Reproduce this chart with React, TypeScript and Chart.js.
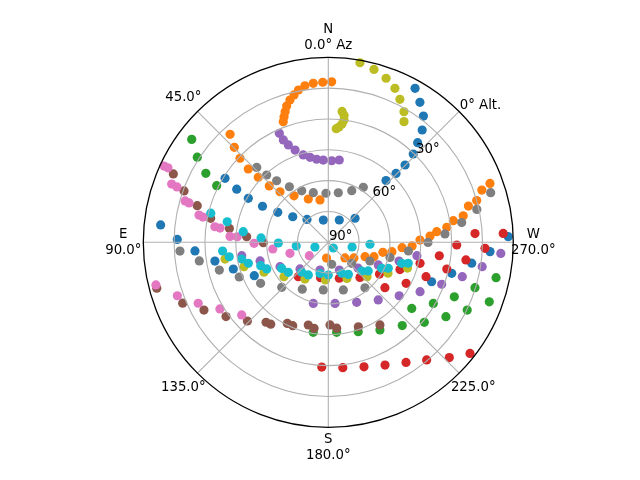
import React, { useEffect, useRef } from 'react';
import { Chart, registerables } from 'chart.js';

Chart.register(...registerables);

// ---- data: azimuth (deg, N=0, E=90) and altitude (deg) per series ----
const blueAz = [330.6, 326.8, 323.0, 320.1, 318.1, 316.1, 315.2, 315.5, 316.9, 312.0, 333.8, 12.6, 43.0, 54.3, 59.3, 61.3, 61.2, 59.9, 58.2, 84.1, 88.9, 93.7, 99.4, 105.7, 114.3, 271.8, 266.7, 261.7, 255.9, 249.1];
const blueAlt = [4.0, 8.6, 13.1, 18.8, 24.9, 30.4, 37.0, 43.0, 48.9, 72.5, 77.9, 78.9, 74.8, 68.7, 61.4, 53.5, 45.6, 38.5, 30.9, 8.0, 16.5, 25.0, 34.1, 42.0, 50.5, 2.4, 11.2, 19.5, 28.1, 36.2];

const orangeAz = [20.5, 19.4, 18.3, 17.0, 15.1, 13.1, 11.1, 8.5, 5.4, 2.0, 358.8, 42.3, 44.7, 46.4, 47.5, 47.1, 46.3, 43.7, 36.4, 24.8, 11.1, 290.0, 288.8, 285.7, 284.5, 281.1, 279.8, 277.2, 275.6, 273.5, 271.4, 267.5, 265.8, 261.6, 259.6, 252.5, 248.6, 238.6, 226.8, 173.5];
const orangeAlt = [27.4, 25.2, 23.1, 20.7, 18.3, 16.4, 14.5, 13.0, 12.3, 12.1, 11.9, 19.0, 25.0, 30.7, 37.2, 43.5, 50.3, 56.0, 61.9, 66.8, 69.0, 6.3, 11.1, 15.0, 19.6, 23.1, 28.3, 31.9, 37.0, 40.4, 45.4, 49.2, 54.0, 58.7, 63.0, 66.7, 70.8, 75.4, 78.9, 82.3];

const greenAz = [53.0, 57.0, 60.6, 63.1, 258.1, 252.8, 246.6, 239.8, 231.6, 249.7, 244.0, 237.7, 230.2, 221.6, 210.5, 198.5, 185.3, 170.5];
const greenAlt = [6.8, 14.0, 21.6, 29.1, 6.6, 15.3, 23.2, 30.9, 38.2, 6.5, 14.8, 22.3, 29.2, 35.8, 40.5, 44.1, 46.0, 45.6];

const redAz = [273.4, 268.8, 263.1, 257.1, 249.2, 238.2, 222.0, 197.0, 167.6, 138.9, 272.9, 267.8, 262.7, 257.3, 250.6, 242.2, 231.3, 177.0, 186.6, 196.0, 204.8, 212.9, 219.9, 226.4, 231.9];
const redAlt = [18.5, 27.5, 35.6, 44.2, 52.7, 60.7, 67.0, 71.7, 72.4, 67.8, 4.8, 13.7, 22.5, 30.9, 39.6, 47.2, 54.7, 29.2, 28.6, 27.0, 24.2, 20.4, 15.4, 8.7, 2.4];

const purpleAz = [24.2, 23.7, 22.3, 19.8, 16.0, 12.1, 8.0, 3.5, 357.6, 352.4, 98.8, 105.3, 116.8, 133.3, 163.3, 201.7, 229.1, 245.6, 255.2, 261.4, 266.3, 261.0, 255.6, 249.7, 241.7, 233.0, 220.9, 205.3, 186.3, 166.2];
const purpleAlt = [31.9, 35.6, 38.8, 42.3, 45.8, 47.7, 49.2, 49.9, 50.3, 49.6, 47.4, 55.6, 63.7, 71.1, 75.9, 75.5, 70.9, 63.3, 54.4, 46.4, 5.9, 14.2, 22.7, 31.2, 39.3, 46.8, 52.9, 57.7, 60.1, 59.4];

const brownAz = [66.2, 70.4, 74.4, 78.5, 82.0, 86.1, 90.4, 105.0, 112.7, 118.6, 126.0, 134.2, 142.1, 144.9, 153.2, 156.9, 166.4, 170.6, 181.2, 185.6, 199.6, 212.0];
const brownAlt = [7.6, 15.5, 23.8, 31.6, 41.4, 50.2, 58.4, 3.6, 13.2, 21.1, 28.5, 35.1, 40.7, 41.3, 45.8, 45.9, 48.6, 47.6, 49.8, 48.0, 46.4, 42.6];

const pinkAz = [65.1, 65.1, 69.6, 69.9, 73.9, 74.2, 78.1, 78.6, 82.2, 82.5, 86.6, 86.5, 90.8, 96.9, 106.0, 125.2, 103.9, 109.5, 115.1, 121.6, 130.0];
const pinkAlt = [1.9, 4.0, 8.7, 11.6, 17.5, 19.6, 25.7, 27.8, 34.3, 36.9, 42.1, 45.6, 53.9, 62.8, 70.6, 78.7, 3.6, 12.1, 20.1, 28.1, 35.0];

const grayAz = [43.7, 42.5, 40.0, 35.0, 27.3, 16.8, 2.7, 348.6, 335.6, 327.5, 287.0, 282.5, 278.4, 274.1, 269.9, 263.8, 256.2, 245.8, 228.1, 188.8, 93.4, 98.2, 104.3, 111.3, 121.2, 134.0, 151.0, 174.0, 197.5, 218.9];
const grayAlt = [39.6, 45.6, 50.9, 57.0, 61.8, 64.8, 66.1, 65.4, 62.4, 58.3, 7.4, 16.0, 24.4, 33.1, 41.5, 50.8, 59.1, 67.8, 74.7, 79.2, 17.7, 26.6, 35.3, 43.5, 51.5, 58.5, 63.9, 66.7, 65.7, 61.6];

const oliveAz = [350.0, 345.2, 340.6, 336.6, 333.4, 329.9, 327.9, 354.0, 352.9, 352.7, 353.4, 354.7, 356.0, 99.2, 106.1, 115.0, 127.8, 147.6, 175.8, 207.3, 228.4, 242.6, 252.0];
const oliveAlt = [1.3, 3.0, 5.4, 8.4, 12.2, 16.6, 20.7, 26.0, 27.8, 30.0, 32.1, 33.7, 34.6, 39.1, 47.3, 55.5, 62.7, 68.8, 71.6, 70.2, 64.8, 57.3, 49.5];

const cyanAz = [76.1, 78.5, 82.9, 86.3, 90.8, 96.6, 109.5, 221.3, 258.8, 267.3, 94.7, 98.3, 100.9, 104.7, 109.1, 113.4, 119.2, 126.9, 138.4, 148.5, 165.1, 180.0, 203.4, 212.0, 229.3, 234.3, 244.0, 246.6, 254.0, 255.3];
const cyanAlt = [31.1, 39.8, 48.3, 57.2, 65.7, 74.3, 83.1, 86.3, 78.2, 69.7, 38.4, 41.3, 47.1, 49.8, 55.2, 57.4, 64.0, 65.7, 70.5, 71.4, 74.3, 74.1, 73.6, 71.6, 68.6, 66.1, 61.1, 58.2, 52.9, 49.8];

const seriesColors = ['#1f77b4', '#ff7f0e', '#2ca02c', '#d62728', '#9467bd', '#8c564b', '#e377c2', '#7f7f7f', '#bcbd22', '#17becf'];

// axis ticks
const thetaTicks = [0, 45, 90, 135, 180, 225, 270, 315];
const thetaTickLabels = ['N\n0.0\u00b0 Az', '45.0\u00b0', 'E\n90.0\u00b0', '135.0\u00b0', 'S\n180.0\u00b0', '225.0\u00b0', 'W\n270.0\u00b0', ''];
const altTicks = [90, 75, 60, 45, 30, 15, 0];
const altTickLabels = ['90\u00b0', '', '60\u00b0', '', '30\u00b0', '', '0\u00b0 Alt.'];

const FONT = '13.3px "DejaVu Sans", sans-serif';

function toXY(az: number[], alt: number[]) {
  return az.map((a, i) => {
    const zd = 90 - alt[i];
    const t = (a * Math.PI) / 180;
    return { x: -zd * Math.sin(t), y: zd * Math.cos(t) };
  });
}

const polarGrid = {
  id: 'polarGrid',
  afterDatasetsDraw(chart: any) {
    const xs = chart.scales.x;
    const ys = chart.scales.y;
    const cx = xs.getPixelForValue(0);
    const cy = ys.getPixelForValue(0);
    const R = xs.getPixelForValue(90) - cx;
    const ctx = chart.ctx as CanvasRenderingContext2D;
    ctx.save();
    // rings
    ctx.strokeStyle = '#b0b0b0';
    ctx.lineWidth = 1.1;
    altTicks.forEach((alt) => {
      const zd = 90 - alt;
      if (zd <= 0 || zd >= 90) return;
      ctx.beginPath();
      ctx.arc(cx, cy, (R * zd) / 90, 0, Math.PI * 2);
      ctx.stroke();
    });
    // spokes
    thetaTicks.forEach((az) => {
      const t = (az * Math.PI) / 180;
      ctx.beginPath();
      ctx.moveTo(cx, cy);
      ctx.lineTo(cx - R * Math.sin(t), cy - R * Math.cos(t));
      ctx.stroke();
    });
    // spine
    ctx.strokeStyle = '#000000';
    ctx.lineWidth = 1.3;
    ctx.beginPath();
    ctx.arc(cx, cy, R, 0, Math.PI * 2);
    ctx.stroke();

    // theta labels
    ctx.fillStyle = '#000000';
    ctx.font = FONT;
    ctx.textAlign = 'center';
    ctx.textBaseline = 'middle';
    const lr = R + 20;
    thetaTicks.forEach((az, i) => {
      const label = thetaTickLabels[i];
      if (!label) return;
      const t = (az * Math.PI) / 180;
      const px = cx - lr * Math.sin(t);
      const py = cy - lr * Math.cos(t);
      const lines = label.split('\n');
      lines.forEach((ln, j) => {
        ctx.fillText(ln, px, py + (j - (lines.length - 1) / 2) * 16);
      });
    });

    // radial labels along the 45deg (upper-right) direction
    ctx.textAlign = 'left';
    ctx.textBaseline = 'alphabetic';
    altTicks.forEach((alt, i) => {
      const label = altTickLabels[i];
      if (!label) return;
      const r = (R * (90 - alt)) / 90;
      const px = cx + r * Math.SQRT1_2;
      const py = cy - r * Math.SQRT1_2;
      ctx.fillText(label, px + 0.6, py - 2.3);
    });
    ctx.restore();
  },
};

export default function App() {
  const ref = useRef<HTMLCanvasElement | null>(null);

  useEffect(() => {
    if (!ref.current) return;
    const pairs: [number[], number[]][] = [
      [blueAz, blueAlt],
      [orangeAz, orangeAlt],
      [greenAz, greenAlt],
      [redAz, redAlt],
      [purpleAz, purpleAlt],
      [brownAz, brownAlt],
      [pinkAz, pinkAlt],
      [grayAz, grayAlt],
      [oliveAz, oliveAlt],
      [cyanAz, cyanAlt],
    ];
    const datasets = pairs.map(([az, alt], i) => ({
      data: toXY(az, alt),
      backgroundColor: seriesColors[i],
      borderWidth: 0,
      pointRadius: 4.6,
      pointHoverRadius: 4.6,
      clip: false as any,
      order: 10 - i,
    }));
    const chart = new Chart(ref.current, {
      type: 'scatter',
      data: { datasets },
      options: {
        animation: false,
        responsive: false,
        events: [],
        layout: { padding: { left: 143.3, right: 126.7, top: 57.3, bottom: 52.7 } },
        plugins: { legend: { display: false }, tooltip: { enabled: false } },
        scales: {
          x: { type: 'linear', min: -90, max: 90, display: false },
          y: { type: 'linear', min: -90, max: 90, display: false },
        },
      },
      plugins: [polarGrid],
    });
    return () => chart.destroy();
  }, []);

  return (
    <div style={{ position: 'absolute', left: 0, top: 0, width: 640, height: 480, background: '#ffffff' }}>
      <canvas ref={ref} width={640} height={480} />
    </div>
  );
}
